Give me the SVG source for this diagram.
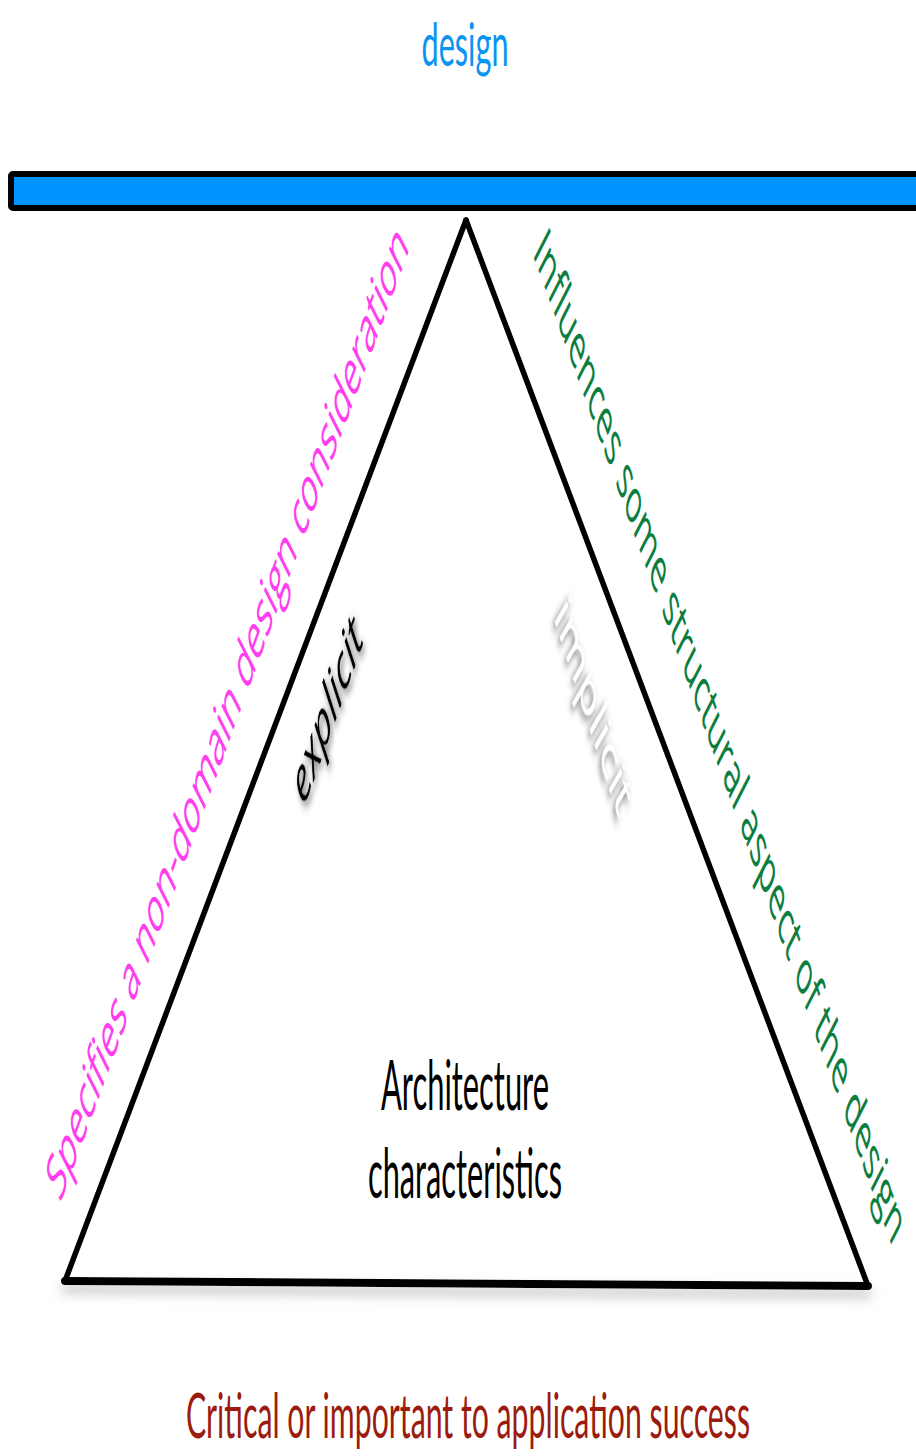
<svg xmlns="http://www.w3.org/2000/svg" width="916" height="1456" viewBox="0 0 916 1456">
<style>
.h{font-family:Lato,"Open Sans",sans-serif;text-anchor:middle}
.r{font-family:"Open Sans","Noto Sans",sans-serif;text-anchor:middle}
.side{fill:none;stroke:#000;stroke-width:5.5;stroke-linecap:round;stroke-linejoin:round}
</style>
<defs>
<filter id="sh" x="-30%" y="-80%" width="160%" height="260%">
<feDropShadow dx="0" dy="6" stdDeviation="5" flood-color="#444" flood-opacity="0.9"/>
</filter>
<filter id="lsh" x="-5%" y="-300%" width="110%" height="900%">
<feDropShadow dx="0" dy="8" stdDeviation="6" flood-color="#999" flood-opacity="0.6"/>
</filter>
</defs>
<g id="title">
<text class="h" x="465" y="66" font-size="60" fill="#0a94f2" textLength="87" lengthAdjust="spacingAndGlyphs">design</text>
</g>
<g id="bar">
<rect x="11" y="174" width="920" height="34" rx="2" fill="#0094ff" stroke="#000" stroke-width="6"/>
</g>
<g id="connectors">
<line class="side" x1="466" y1="220" x2="65" y2="1281"/>
<line class="side" x1="466" y1="220" x2="868" y2="1286"/>
<line x1="65" y1="1281" x2="868" y2="1286" stroke="#000" stroke-width="8" stroke-linecap="round" filter="url(#lsh)"/>
</g>
<g id="left-label">
<text class="r" transform="translate(227,711) scale(0.43,1) rotate(-49.6)" dy="0.35em" font-size="68" fill="#ff3ef0" textLength="1255" lengthAdjust="spacingAndGlyphs">Specifies a non-domain  design consideration</text>
</g>
<g id="right-label">
<text class="r" transform="translate(720,736) scale(0.43,1) rotate(49.9)" dy="0.35em" font-size="66" fill="#0b7d3e" textLength="1300" lengthAdjust="spacingAndGlyphs">Influences some structural aspect of the design</text>
</g>
<g id="explicit">
<text class="r" transform="translate(327,710) scale(0.43,1) rotate(-50)" dy="0.35em" font-size="62" font-style="italic" fill="#000" textLength="220" lengthAdjust="spacingAndGlyphs" filter="url(#sh)">explicit</text>
</g>
<g id="implicit">
<text class="r" transform="translate(594,705) scale(0.43,1) rotate(53)" dy="0.35em" font-size="64" fill="#fff" textLength="255" lengthAdjust="spacingAndGlyphs" filter="url(#sh)">implicit</text>
</g>
<g id="center">
<text class="h" x="465" y="1110" font-size="69" fill="#000" textLength="168" lengthAdjust="spacingAndGlyphs">Architecture</text>
<text class="h" x="465" y="1198" font-size="69" fill="#000" textLength="194" lengthAdjust="spacingAndGlyphs">characteristics</text>
</g>
<g id="bottom">
<text class="h" x="468" y="1438" font-size="61" fill="#9b1b0e" textLength="564" lengthAdjust="spacingAndGlyphs">Critical or important to application success</text>
</g>
</svg>
